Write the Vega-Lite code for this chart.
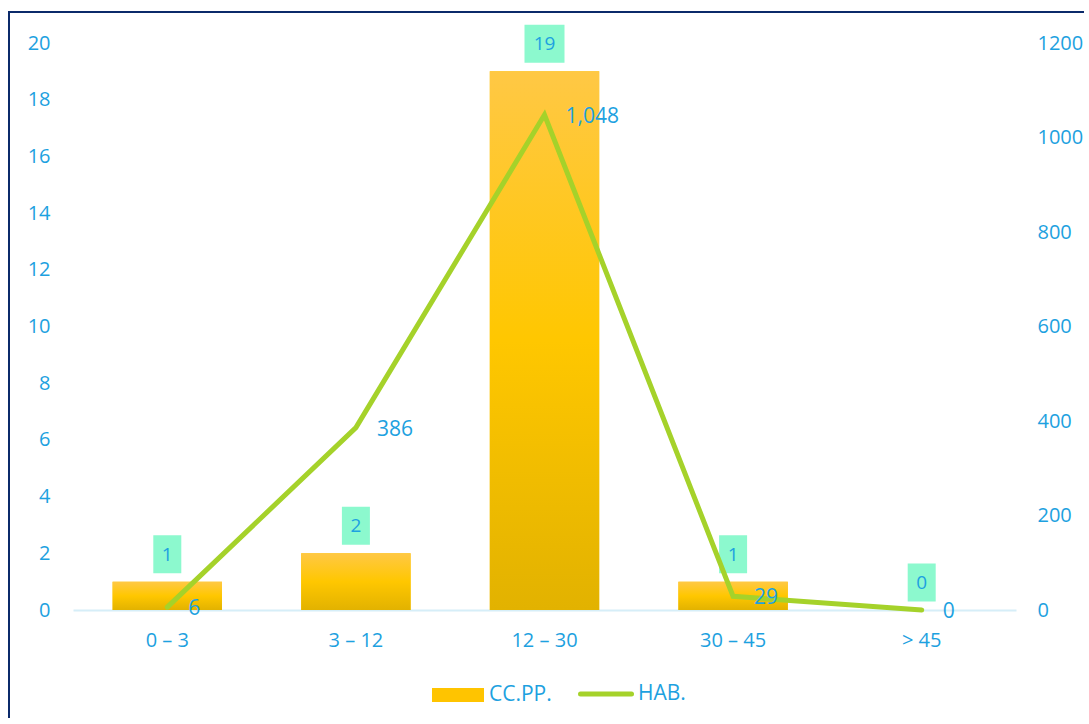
{
  "$schema": "https://vega.github.io/schema/vega-lite/v6.json",
  "width": 1075,
  "height": 706,
  "autosize": {"type": "none"},
  "padding": {"left": 9, "top": 12, "right": 0, "bottom": 0},
  "background": "white",
  "config": {
    "view": {"stroke": "#0B2A6A", "strokeWidth": 2, "strokeDash": [1075, 1781, 706, 20]},
    "font": "Open Sans",
    "axis": {"labelColor": "#1DA1E0", "labelFont": "Open Sans", "labelFontSize": 20, "ticks": false, "grid": false, "title": null},
    "legend": {"labelColor": "#1DA1E0", "labelFont": "Open Sans", "labelFontSize": 21, "title": null, "padding": 0}
  },
  "data": {
    "values": [
      {"cat": "0 – 3", "cc": 1, "hab": 6},
      {"cat": "3 – 12", "cc": 2, "hab": 386},
      {"cat": "12 – 30", "cc": 19, "hab": 1048},
      {"cat": "30 – 45", "cc": 1, "hab": 29},
      {"cat": "> 45", "cc": 0, "hab": 0}
    ]
  },
  "encoding": {
    "x": {
      "field": "cat", "type": "nominal", "sort": null,
      "scale": {"range": [64, 1007], "paddingInner": 0.42, "paddingOuter": 0.21},
      "axis": {"orient": "bottom", "offset": -108, "labelPadding": 20, "domainColor": "#D6EEF8", "domainWidth": 2, "labelAngle": 0, "title": null}
    }
  },
  "layer": [
    {
      "encoding": {
        "y": {
          "field": "cc", "type": "quantitative",
          "scale": {"domain": [0, 20], "range": [598, 31], "nice": false},
          "axis": {"orient": "left", "offset": -64, "labelPadding": 23, "values": [0, 2, 4, 6, 8, 10, 12, 14, 16, 18, 20], "domain": false, "title": null}
        }
      },
      "layer": [
        {
          "mark": {"type": "bar"},
          "encoding": {
            "fill": {
              "datum": "CC.PP.", "type": "nominal",
              "scale": {"range": ["#FFC400"]},
              "legend": {
                "orient": "none", "legendX": 423, "legendY": 657,
                "symbolType": "M-1,-0.27H1V0.27H-1Z", "symbolSize": 2704, "symbolStrokeWidth": 0, "labelOffset": 5,
                "encode": {"symbols": {"update": {"fill": {"value": {"gradient": "linear", "x1": 0, "y1": 0, "x2": 0, "y2": 1, "stops": [{"offset": 0, "color": "#FFC845"}, {"offset": 1, "color": "#FFC600"}]}}}}}
              }
            }
          }
        },
        {
          "mark": {"type": "bar", "fill": {"gradient": "linear", "x1": 0, "y1": 0, "x2": 0, "y2": 1, "stops": [{"offset": 0, "color": "#FFC845"}, {"offset": 0.5, "color": "#FFC700"}, {"offset": 1, "color": "#E2B200"}]}}
        },
        {
          "mark": {"type": "point", "filled": true, "size": 400, "opacity": 1, "fill": "#8CF9CE", "strokeWidth": 0},
          "encoding": {
            "shape": {"condition": {"test": "datum.cc >= 10", "value": "M-2,-4.65H2V-0.85H-2Z"}, "value": "M-1.4,-4.65H1.4V-0.85H-1.4Z"}
          }
        },
        {
          "mark": {"type": "text", "dy": -27, "baseline": "middle", "fontSize": 19, "color": "#1DA1E0"},
          "encoding": {"text": {"field": "cc", "type": "quantitative"}}
        }
      ]
    },
    {
      "encoding": {
        "y": {
          "field": "hab", "type": "quantitative",
          "scale": {"domain": [0, 1200], "range": [598, 31], "nice": false},
          "axis": {"orient": "right", "offset": -68, "labelPadding": 21, "format": "d", "values": [0, 200, 400, 600, 800, 1000, 1200], "domain": false, "title": null}
        }
      },
      "layer": [
        {
          "mark": {"type": "line", "strokeWidth": 5, "strokeCap": "round"},
          "encoding": {
            "stroke": {
              "datum": "HAB.", "type": "nominal",
              "scale": {"range": ["#A5D22A"]},
              "legend": {
                "orient": "none", "legendX": 569, "legendY": 654,
                "symbolType": "stroke", "symbolSize": 2601, "symbolStrokeWidth": 5, "labelOffset": 4,
                "encode": {"symbols": {"update": {"strokeCap": {"value": "round"}}}}
              }
            }
          }
        },
        {
          "mark": {"type": "text", "align": "left", "dx": 21, "dy": 2, "baseline": "middle", "fontSize": 21, "color": "#1DA1E0"},
          "encoding": {"text": {"field": "hab", "type": "quantitative", "format": ","}}
        }
      ]
    }
  ],
  "resolve": {"scale": {"y": "independent", "fill": "independent", "stroke": "independent"}}
}
